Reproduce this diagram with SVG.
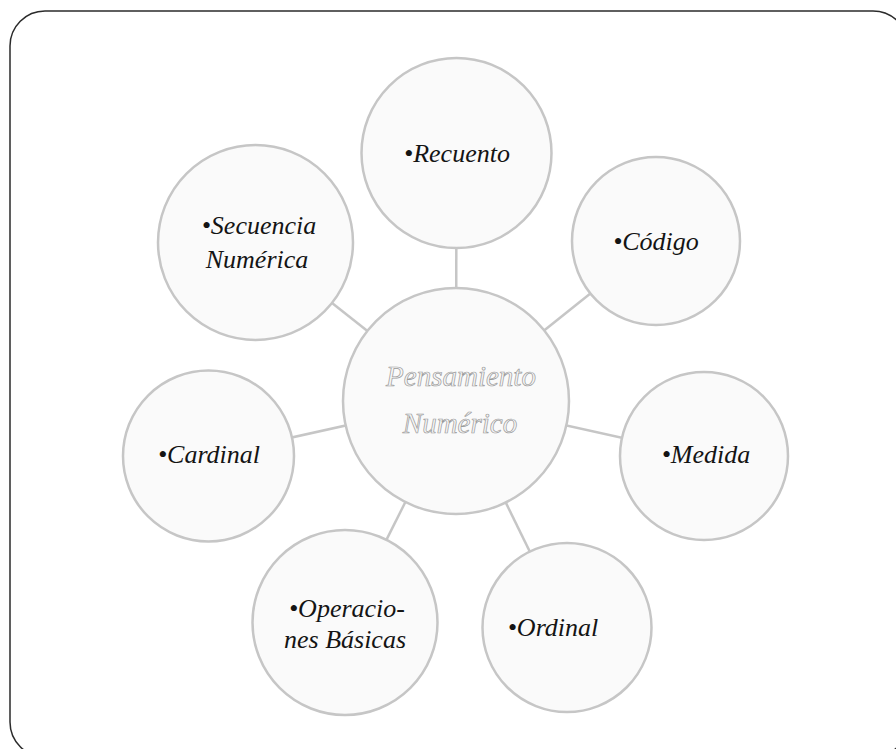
<svg xmlns="http://www.w3.org/2000/svg" width="896" height="749" viewBox="0 0 896 749">
<style>
.bg{fill:#ffffff}
.frame{fill:none;stroke:#2b2b2b;stroke-width:1.5}
.node{fill:#fafafa;stroke:#c6c6c6;stroke-width:2.5}
.conn{stroke:#c6c6c6;stroke-width:2.5;fill:none}
.lbl{font-family:"Liberation Serif","DejaVu Serif",serif;font-style:italic;font-size:26px;fill:#141414;text-anchor:middle}
.ctr{font-family:"Liberation Serif","DejaVu Serif",serif;font-style:italic;font-size:29px;fill:#f6f6f6;stroke:#9a9a9a;stroke-width:0.7;text-anchor:middle}
</style>
<rect class="bg" x="0" y="0" width="896" height="749"/>
<rect class="frame" x="10" y="11" width="898" height="746" rx="35" ry="35"/>
<g id="connectors">
<line class="conn" x1="456" y1="401" x2="456.5" y2="153"/>
<line class="conn" x1="456" y1="401" x2="656" y2="241"/>
<line class="conn" x1="456" y1="401" x2="704" y2="456"/>
<line class="conn" x1="456" y1="401" x2="567" y2="627.5"/>
<line class="conn" x1="456" y1="401" x2="345" y2="622.5"/>
<line class="conn" x1="456" y1="401" x2="208.5" y2="456"/>
<line class="conn" x1="456" y1="401" x2="255.5" y2="242.5"/>
</g>
<g id="node-center">
<circle class="node" cx="456" cy="401" r="113"/>
<text class="ctr" x="461" y="386">Pensamiento</text>
<text class="ctr" x="460" y="433">Numérico</text>
</g>
<g id="node-recuento">
<circle class="node" cx="456.5" cy="153" r="95"/>
<text class="lbl" x="457" y="162">•Recuento</text>
</g>
<g id="node-codigo">
<circle class="node" cx="656" cy="241" r="84"/>
<text class="lbl" x="656" y="250">•Código</text>
</g>
<g id="node-medida">
<circle class="node" cx="704" cy="456" r="84"/>
<text class="lbl" x="706" y="463">•Medida</text>
</g>
<g id="node-ordinal">
<circle class="node" cx="567" cy="627.5" r="84.5"/>
<text class="lbl" x="553" y="636">•Ordinal</text>
</g>
<g id="node-operaciones">
<circle class="node" cx="345" cy="622.5" r="92.5"/>
<text class="lbl" x="347" y="617">•Operacio-</text>
<text class="lbl" x="345" y="648">nes Básicas</text>
</g>
<g id="node-cardinal">
<circle class="node" cx="208.5" cy="456" r="85.5"/>
<text class="lbl" x="209" y="463">•Cardinal</text>
</g>
<g id="node-secuencia">
<circle class="node" cx="255.5" cy="242.5" r="97.5"/>
<text class="lbl" x="259" y="234">•Secuencia</text>
<text class="lbl" x="257" y="268">Numérica</text>
</g>
</svg>
